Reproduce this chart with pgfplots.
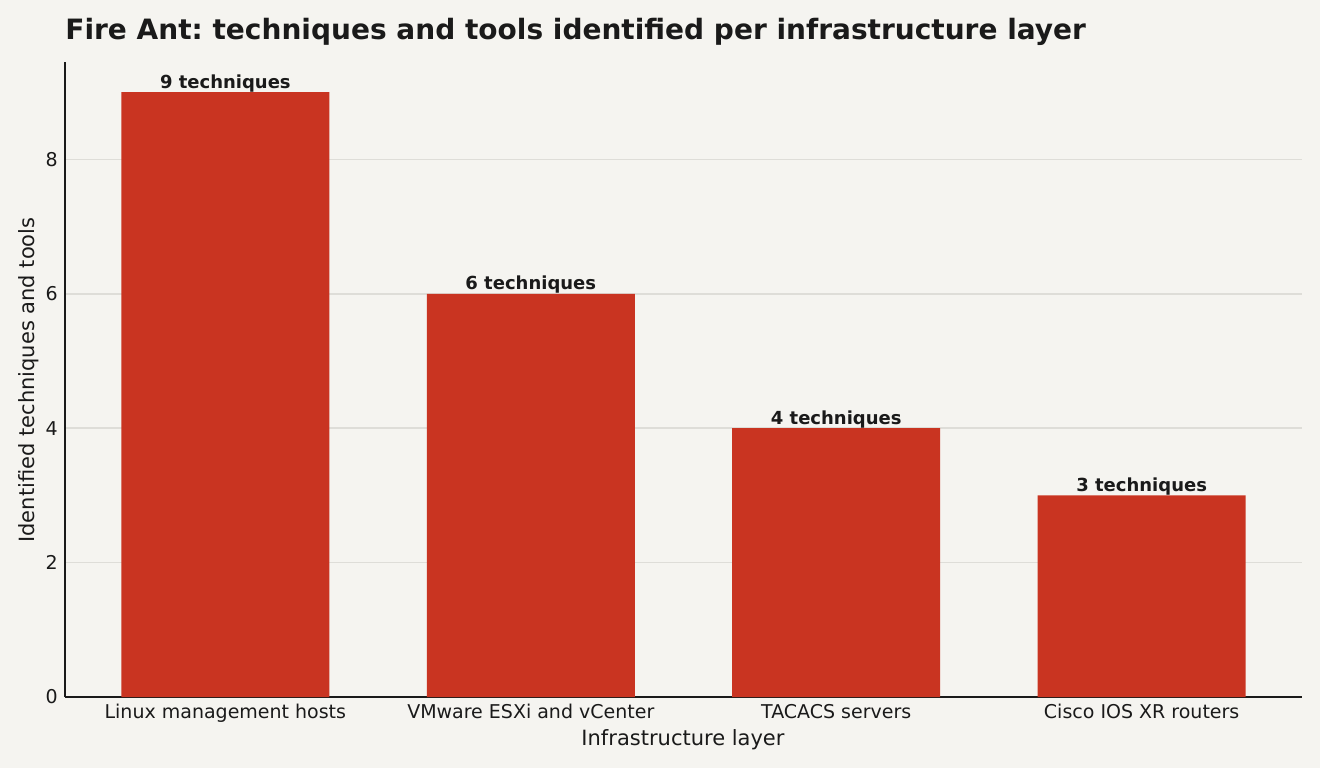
\documentclass[border=0pt]{standalone}
\usepackage{pgfplots}
\pgfplotsset{compat=1.18}
\usepackage{fontspec}
\setmainfont{DejaVu Sans}
\frenchspacing
\definecolor{bgc}{HTML}{F5F4F0}
\definecolor{barc}{HTML}{C93421}
\definecolor{gridc}{HTML}{DEDDD8}
\definecolor{txtc}{HTML}{1A1A1A}
\begin{document}
\begin{tikzpicture}
\fill[bgc] (0,0) rectangle (660pt,384pt);
\useasboundingbox (0,0) rectangle (660pt,384pt);
\begin{axis}[
  at={(32.5pt,35.5pt)}, anchor=south west,
  scale only axis, width=618.5pt, height=317.5pt,
  xmin=-0.525, xmax=3.525, ymin=0, ymax=9.45,
  axis x line*=bottom, axis y line*=left,
  axis line style={txtc, line width=0.75pt},
  major tick length=0pt,
  xtick=data,
  xticklabels={Linux management hosts, VMware ESXi and vCenter, TACACS servers, Cisco IOS XR routers},
  ytick={0,2,4,6,8},
  ymajorgrids, grid style={gridc, line width=0.8pt},
  /pgf/number format/assume math mode=true,
  tick label style={font=\fontsize{9.5}{11}\selectfont, text=txtc},
  xticklabel style={anchor=base, yshift=-10.5pt},
  yticklabel style={anchor=east, inner sep=0pt, xshift=-3.5pt},
  ybar, bar width=104pt,
  nodes near coords={\pgfmathprintnumber{\pgfplotspointmeta} techniques},
  nodes near coords style={anchor=base, yshift=2pt, font=\bfseries\fontsize{9}{10}\selectfont, text=txtc, inner sep=0pt},
]
\addplot[fill=barc, draw=none, bar shift=0pt] coordinates {(0,9) (1,6) (2,4) (3,3)};
\end{axis}
\node[anchor=base west, inner sep=0pt, font=\bfseries\fontsize{14}{16}\selectfont, text=txtc] at (32.5pt,364pt) {Fire Ant: techniques and tools identified per infrastructure layer};
\node[anchor=base, inner sep=0pt, font=\fontsize{10.5}{12}\selectfont, text=txtc] at (341.5pt,11.5pt) {Infrastructure layer};
\node[rotate=90, inner sep=0pt, font=\fontsize{10.5}{12}\selectfont, text=txtc] at (14.5pt,194pt) {Identified techniques and tools};
\end{tikzpicture}
\end{document}
